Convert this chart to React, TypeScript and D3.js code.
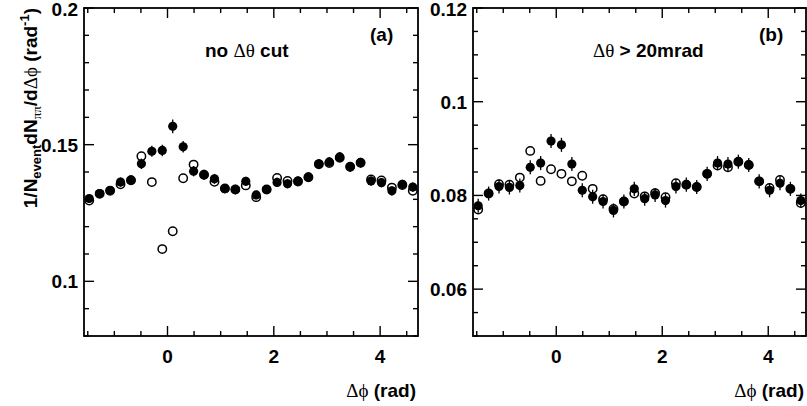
import React from "react";
import * as d3 from "d3";

const N_BINS = 32;
const PHI_LO = -Math.PI / 2;
const PHI_HI = (3 * Math.PI) / 2;
const binCenters = d3.range(N_BINS).map((i) => PHI_LO + (i + 0.5) * ((PHI_HI - PHI_LO) / N_BINS));

// Panel (a): no delta-theta cut
const aFilled = [0.1303, 0.1321, 0.1333, 0.1363, 0.137, 0.143, 0.1476, 0.1479, 0.1567, 0.1492, 0.1403, 0.139, 0.1375, 0.1339, 0.1336, 0.1366, 0.1316, 0.1336, 0.1362, 0.1357, 0.1367, 0.1381, 0.143, 0.1437, 0.1455, 0.1419, 0.1434, 0.1367, 0.1361, 0.1331, 0.1355, 0.1345];
const aFilledErr = [0.0016, 0.0016, 0.0016, 0.0017, 0.0017, 0.0019, 0.002, 0.0021, 0.0025, 0.0021, 0.0019, 0.0018, 0.0018, 0.0017, 0.0017, 0.0017, 0.0016, 0.0016, 0.0017, 0.0017, 0.0017, 0.0017, 0.0018, 0.0018, 0.0018, 0.0018, 0.0018, 0.0017, 0.0017, 0.0017, 0.0017, 0.0017];
const aOpen = [0.1296, 0.132, 0.1331, 0.1355, 0.137, 0.1458, 0.1363, 0.1118, 0.1183, 0.1377, 0.1427, 0.139, 0.1364, 0.134, 0.1336, 0.1351, 0.1308, 0.1336, 0.1378, 0.1367, 0.1365, 0.1381, 0.1428, 0.1433, 0.1452, 0.1419, 0.1434, 0.1373, 0.1369, 0.1343, 0.1352, 0.1331];
const aOpenErr = aOpen.map(() => 0.0012);

// Panel (b): delta-theta > 20 mrad
const bFilled = [0.0778, 0.0804, 0.0819, 0.0817, 0.0821, 0.086, 0.0869, 0.0916, 0.0908, 0.0867, 0.0811, 0.0797, 0.0787, 0.0768, 0.0787, 0.0814, 0.0793, 0.0801, 0.0789, 0.0819, 0.0823, 0.0818, 0.0846, 0.0869, 0.0867, 0.0872, 0.0865, 0.083, 0.0811, 0.0826, 0.0814, 0.0789];
const bFilledErr = bFilled.map(() => 0.0015);
const bOpen = [0.077, 0.0804, 0.0824, 0.0823, 0.0838, 0.0895, 0.0831, 0.0856, 0.0846, 0.083, 0.0842, 0.0814, 0.0792, 0.0771, 0.0787, 0.0804, 0.0798, 0.0805, 0.0796, 0.0826, 0.0823, 0.0818, 0.0846, 0.0864, 0.086, 0.0872, 0.0865, 0.083, 0.0816, 0.0833, 0.0814, 0.0784];
const bOpenErr = bOpen.map(() => 0.001);

const xMajorTicks = [0, 2, 4];
const xMinorStep = 0.5;

const aYDomain: [number, number] = [0.08, 0.2];
const aYMajor = [0.1, 0.15, 0.2];
const aYLabels = ["0.1", "0.15", "0.2"];
const aYMinorStep = 0.01;

const bYDomain: [number, number] = [0.05, 0.12];
const bYMajor = [0.06, 0.08, 0.1, 0.12];
const bYLabels = ["0.06", "0.08", "0.1", "0.12"];
const bYMinorStep = 0.005;

const FONT = "'Liberation Sans', Arial, Helvetica, sans-serif";
const GREEK = "'Liberation Serif', 'DejaVu Serif', 'Times New Roman', serif";
const FS = 19;
const SUB = 13;

type PanelProps = {
  x0: number;
  x1: number;
  yDomain: [number, number];
  yMajor: number[];
  yLabels: string[];
  yMinorStep: number;
  filled: number[];
  filledErr: number[];
  open: number[];
  openErr: number[];
  tag: string;
  tagX: number;
  cut: React.ReactNode;
  cutX: number;
};

const TOP = 8;
const BOTTOM = 336;
const R = 4.6;
const RO = 4.2;

function Panel(p: PanelProps) {
  const x = d3.scaleLinear().domain([PHI_LO, PHI_HI]).range([p.x0, p.x1]);
  const y = d3.scaleLinear().domain(p.yDomain).range([BOTTOM, TOP]);
  const xMinor = d3
    .range(-1.5, PHI_HI, xMinorStep)
    .filter((v) => !xMajorTicks.some((m) => Math.abs(m - v) < 1e-6));
  const yMinor = d3
    .range(Math.ceil(p.yDomain[0] / p.yMinorStep - 1e-6), Math.floor(p.yDomain[1] / p.yMinorStep + 1e-6) + 1)
    .map((k) => k * p.yMinorStep)
    .filter((v) => !p.yMajor.some((m) => Math.abs(m - v) < 1e-6));
  const ticks: React.ReactNode[] = [];
  const tk = (key: string, x1: number, y1: number, x2: number, y2: number) =>
    ticks.push(<line key={key} x1={x1} y1={y1} x2={x2} y2={y2} stroke="#000" strokeWidth={1.4} />);
  xMajorTicks.forEach((v) => {
    tk("xb" + v, x(v), BOTTOM, x(v), BOTTOM - 10);
    tk("xt" + v, x(v), TOP, x(v), TOP + 10);
  });
  xMinor.forEach((v) => {
    tk("xbm" + v, x(v), BOTTOM, x(v), BOTTOM - 5);
    tk("xtm" + v, x(v), TOP, x(v), TOP + 5);
  });
  p.yMajor.forEach((v) => {
    tk("yl" + v, p.x0, y(v), p.x0 + 10, y(v));
    tk("yr" + v, p.x1, y(v), p.x1 - 10, y(v));
  });
  yMinor.forEach((v) => {
    tk("ylm" + v, p.x0, y(v), p.x0 + 5, y(v));
    tk("yrm" + v, p.x1, y(v), p.x1 - 5, y(v));
  });

  const errSeg = (cx: number, v: number, e: number, k: string) => {
    const yt = y(v + e);
    const yb = y(v - e);
    const cy = y(v);
    const out: React.ReactNode[] = [];
    if (cy - yt > RO + 0.7) out.push(<line key={k + "u"} x1={cx} x2={cx} y1={yt} y2={cy - RO - 0.7} stroke="#000" strokeWidth={1.2} />);
    if (yb - cy > RO + 0.7) out.push(<line key={k + "d"} x1={cx} x2={cx} y1={cy + RO + 0.7} y2={yb} stroke="#000" strokeWidth={1.2} />);
    return out;
  };

  return (
    <g>
      <defs>
        <clipPath id={"clip" + p.tag}>
          <rect x={p.x0} y={TOP} width={p.x1 - p.x0} height={BOTTOM - TOP} />
        </clipPath>
      </defs>
      <g clipPath={`url(#clip${p.tag})`}>
        {p.open.map((v, i) => (
          <g key={"o" + i}>
            {errSeg(x(binCenters[i]), v, p.openErr[i], "oe" + i)}
            <circle cx={x(binCenters[i])} cy={y(v)} r={RO} fill="none" stroke="#000" strokeWidth={1.5} />
          </g>
        ))}
        {p.filled.map((v, i) => (
          <g key={"f" + i}>
            <line x1={x(binCenters[i])} x2={x(binCenters[i])} y1={y(v + p.filledErr[i])} y2={y(v - p.filledErr[i])} stroke="#000" strokeWidth={1.3} />
            <circle cx={x(binCenters[i])} cy={y(v)} r={R} fill="#000" />
          </g>
        ))}
      </g>
      {ticks}
      <rect x={p.x0} y={TOP} width={p.x1 - p.x0} height={BOTTOM - TOP} fill="none" stroke="#000" strokeWidth={1.8} />
      {p.yMajor.map((v, i) => (
        <text key={"yl" + v} x={p.x0 - 6} y={Math.max(y(v) + 7, 16)} textAnchor="end" fontFamily={FONT} fontWeight="bold" fontSize={FS}>
          {p.yLabels[i]}
        </text>
      ))}
      {xMajorTicks.map((v) => (
        <text key={"xl" + v} x={x(v)} y={363} textAnchor="middle" fontFamily={FONT} fontWeight="bold" fontSize={FS}>
          {String(v)}
        </text>
      ))}
      <text x={p.x1 - 2} y={397} textAnchor="end" fontFamily={FONT} fontWeight="bold" fontSize={FS}>
        <tspan fontFamily={GREEK} fontWeight="normal">Δϕ</tspan> (rad)
      </text>
      <text x={p.tagX} y={41} fontFamily={FONT} fontWeight="bold" fontSize={FS}>
        ({p.tag})
      </text>
      <text x={p.cutX} y={57} fontFamily={FONT} fontWeight="bold" fontSize={FS}>
        {p.cut}
      </text>
    </g>
  );
}

export default function App() {
  return (
    <svg width={807} height={406} style={{ position: "absolute", left: 0, top: 0, background: "#fff" }}>
      <rect x={0} y={0} width={807} height={406} fill="#fff" />
      <Panel
        x0={84}
        x1={418}
        yDomain={aYDomain}
        yMajor={aYMajor}
        yLabels={aYLabels}
        yMinorStep={aYMinorStep}
        filled={aFilled}
        filledErr={aFilledErr}
        open={aOpen}
        openErr={aOpenErr}
        tag="a"
        tagX={370}
        cutX={205}
        cut={
          <>
            no <tspan fontFamily={GREEK} fontWeight="normal">Δθ</tspan> cut
          </>
        }
      />
      <Panel
        x0={473}
        x1={806}
        yDomain={bYDomain}
        yMajor={bYMajor}
        yLabels={bYLabels}
        yMinorStep={bYMinorStep}
        filled={bFilled}
        filledErr={bFilledErr}
        open={bOpen}
        openErr={bOpenErr}
        tag="b"
        tagX={759}
        cutX={593}
        cut={
          <>
            <tspan fontFamily={GREEK} fontWeight="normal">Δθ</tspan> {"> 20mrad"}
          </>
        }
      />
      <text transform="translate(37,8) rotate(-90)" textAnchor="end" fontFamily={FONT} fontWeight="bold" fontSize={FS}>
        1/N
        <tspan fontSize={SUB} dy={4}>event</tspan>
        <tspan dy={-4}>dN</tspan>
        <tspan fontSize={SUB} dy={4} fontFamily={GREEK} fontWeight="normal">ππ</tspan>
        <tspan dy={-4}>/d</tspan>
        <tspan fontFamily={GREEK} fontWeight="normal">Δϕ</tspan>
        <tspan> (rad</tspan>
        <tspan fontSize={SUB} dy={-8}>-1</tspan>
        <tspan dy={8}>)</tspan>
      </text>
    </svg>
  );
}
